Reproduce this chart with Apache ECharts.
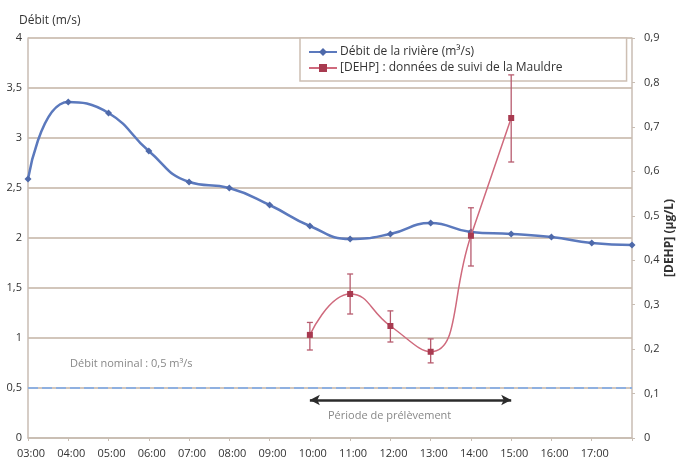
<!DOCTYPE html>
<html>
<head>
<meta charset="utf-8">
<style>
  html, body { margin: 0; padding: 0; background: #fff; }
  #chart { width: 678px; height: 461px; }
</style>
<script src="https://cdn.jsdelivr.net/npm/echarts@6/dist/echarts.min.js"></script>
</head>
<body>
<div id="chart"></div>
<script>
// Hourly time axis
const hours = ['03:00','04:00','05:00','06:00','07:00','08:00','09:00','10:00',
               '11:00','12:00','13:00','14:00','15:00','16:00','17:00','18:00'];
// River flow (m3/s), left axis
const riverFlow = [2.59, 3.36, 3.25, 2.87, 2.56, 2.50, 2.33, 2.12,
                   1.99, 2.04, 2.15, 2.06, 2.04, 2.01, 1.95, 1.93];
// DEHP concentration (µg/L), right axis
const dehp     = [null, null, null, null, null, null, null, 0.232,
                  0.324, 0.252, 0.194, 0.455, 0.720, null, null, null];
const dehpLow  = [null, null, null, null, null, null, null, 0.198,
                  0.279, 0.216, 0.169, 0.387, 0.621, null, null, null];
const dehpHigh = [null, null, null, null, null, null, null, 0.260,
                  0.369, 0.286, 0.223, 0.518, 0.817, null, null, null];
// Reference values
const nominalFlow = 0.5;
const samplingStart = '10:00';
const samplingEnd = '15:00';
const arrowLevel = 0.38;

const FONT = '"Open Sans", "Noto Sans", sans-serif';
const comma = v => String(v).replace('.', ',');

const errorData = [];
hours.forEach((h, i) => {
  if (dehpLow[i] != null) errorData.push([i, dehpLow[i], dehpHigh[i]]);
});

const chart = echarts.init(document.getElementById('chart'));
chart.setOption({
  animation: false,
  textStyle: { fontFamily: FONT },
  grid: { left: 28, right: 46, top: 38, bottom: 23, containLabel: false, outerBoundsMode: 'none' },
  title: {
    text: 'Débit (m/s)', left: 14, top: 10,
    textStyle: { fontFamily: FONT, fontSize: 12, fontWeight: 'normal', color: '#333' }
  },
  legend: {
    orient: 'vertical', left: 300, top: 38,
    padding: [8, 64, 7, 8],
    itemGap: 4, itemWidth: 28, itemHeight: 10,
    backgroundColor: '#fff', borderColor: '#cdbfb3', borderWidth: 1.5,
    textStyle: { fontFamily: FONT, fontSize: 12, color: '#333', padding: [0, 0, 0, -2] },
    data: ['Débit de la rivière (m³/s)', '[DEHP] : données de suivi de la Mauldre']
  },
  xAxis: {
    type: 'category', data: hours, boundaryGap: false,
    axisLine: { lineStyle: { color: '#c8bdb3', width: 1.5 } },
    axisTick: { show: true, alignWithLabel: true, length: 3, lineStyle: { color: '#c8bdb3' } },
    axisLabel: {
      fontFamily: FONT, fontSize: 11, color: '#333', margin: 10,
      interval: 0, padding: [0, 0, 0, 6],
      formatter: v => (v === '18:00' ? '' : v)
    }
  },
  yAxis: [
    {
      type: 'value', min: 0, max: 4, interval: 0.5,
      axisLine: { show: true, lineStyle: { color: '#c8bdb3', width: 1.5 } },
      axisTick: { show: false },
      splitLine: { lineStyle: { color: '#d2c6bb', width: 1.8 } },
      axisLabel: { fontFamily: FONT, fontSize: 11, color: '#333', margin: 6, formatter: comma }
    },
    {
      type: 'value', min: 0, max: 0.9, interval: 0.1, position: 'right',
      axisLine: { show: true, lineStyle: { color: '#c8bdb3', width: 1.5 } },
      axisTick: { show: true, length: 3, lineStyle: { color: '#c8bdb3' } },
      splitLine: { show: false },
      axisLabel: { fontFamily: FONT, fontSize: 11, color: '#333', margin: 12, formatter: comma }
    }
  ],
  graphic: [
    {
      type: 'text', left: 70, top: 358,
      style: { text: 'Débit nominal : 0,5 m³/s', font: '11px ' + FONT, fill: '#888' }
    },
    {
      type: 'text', left: 328, top: 410,
      style: { text: 'Période de prélèvement', font: '11px ' + FONT, fill: '#888' }
    },
    {
      // right axis title, rotated
      type: 'text', x: 670, y: 238, rotation: Math.PI / 2,
      style: {
        text: '[DEHP] (µg/L)', font: 'bold 12px ' + FONT, fill: '#333',
        align: 'center', verticalAlign: 'middle'
      }
    }
  ],
  series: [
    {
      name: 'Débit de la rivière (m³/s)', type: 'line', yAxisIndex: 0,
      data: riverFlow, smooth: true, z: 3,
      symbol: 'diamond', symbolSize: 7, showAllSymbol: true,
      lineStyle: { color: '#5b79bd', width: 2.5 },
      itemStyle: { color: '#4e69aa' },
      markLine: {
        silent: true, symbol: ['none', 'none'], label: { show: false },
        data: [
          {
            yAxis: nominalFlow,
            lineStyle: { color: '#8fb0e0', type: [10, 4], width: 2 }
          },
          [
            { coord: [samplingStart, arrowLevel], symbol: 'arrow' },
            { coord: [samplingEnd, arrowLevel], symbol: 'arrow' }
          ]
        ],
        lineStyle: { color: '#2b2b2b', width: 2.5, type: 'solid' },
        symbolSize: [8, 10]
      }
    },
    {
      name: '[DEHP] : données de suivi de la Mauldre', type: 'line', yAxisIndex: 1,
      data: dehp, smooth: true, connectNulls: false, z: 4,
      symbol: 'rect', symbolSize: 6,
      lineStyle: { color: '#cf6a7d', width: 1.5 },
      itemStyle: { color: '#a83a50' }
    },
    {
      name: 'errors', type: 'custom', yAxisIndex: 1, z: 4,
      data: errorData,
      renderItem: (params, api) => {
        const x = api.value(0);
        const lo = api.coord([x, api.value(1)]);
        const hi = api.coord([x, api.value(2)]);
        const w = 3;
        const style = { stroke: '#b75b6e', lineWidth: 1.3 };
        return {
          type: 'group',
          children: [
            { type: 'line', shape: { x1: lo[0], y1: lo[1], x2: hi[0], y2: hi[1] }, style },
            { type: 'line', shape: { x1: lo[0] - w, y1: lo[1], x2: lo[0] + w, y2: lo[1] }, style },
            { type: 'line', shape: { x1: hi[0] - w, y1: hi[1], x2: hi[0] + w, y2: hi[1] }, style }
          ]
        };
      }
    }
  ]
});
</script>
</body>
</html>
